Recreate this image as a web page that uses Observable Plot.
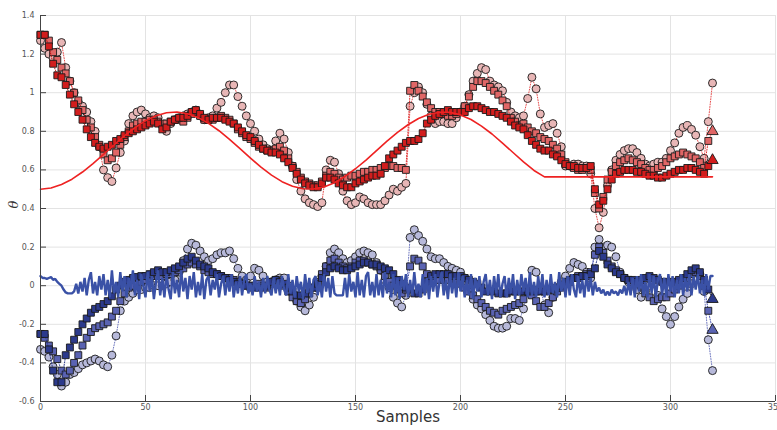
<!DOCTYPE html>
<html><head><meta charset="utf-8">
<script src="https://cdn.jsdelivr.net/npm/d3@7"></script>
<script src="https://cdn.jsdelivr.net/npm/@observablehq/plot@0.6"></script>
<style>body{margin:0;background:#fff;} #chart{width:777px;height:430px;}</style>
</head><body><div id="chart"></div>
<script>
// sample spacing of estimated series
const sampleStep = 2;
const refStep = 5;

const xTicks = [0, 50, 100, 150, 200, 250, 300, 350];
const yTicks = [-0.6, -0.4, -0.2, 0, 0.2, 0.4, 0.6, 0.8, 1, 1.2, 1.4];

// red reference (theta true), every 5 samples
const redRef = [
0.500,0.506,0.524,0.552,0.589,0.633,0.680,0.729,0.777,0.819,
0.855,0.881,0.896,0.900,0.891,0.872,0.841,0.803,0.758,0.710,
0.661,0.614,0.573,0.539,0.515,0.502,0.501,0.512,0.534,0.566,
0.606,0.651,0.700,0.749,0.794,0.834,0.866,0.888,0.899,0.898,
0.885,0.861,0.827,0.786,0.739,0.690,0.642,0.597,
0.564,0.564,0.564,0.564,0.564,0.564,0.564,0.564,0.564,0.564,0.564,0.564,0.564,0.564,0.564,0.564,0.564];

// blue reference, every sample
const blueRef = [
0.05,0.04,0.04,0.035,0.04,0.045,0.03,0.035,0.02,0.01,0.0,-0.02,-0.035,-0.04,-0.04,-0.04,-0.03,
0.01,-0.04,0.02,-0.03,0.04,-0.05,0.03,0.07,-0.04,0.02,-0.05,0.05,-0.02,0.06,-0.05,0.03,-0.06,0.08,-0.04,0.02,-0.06,0.07,-0.03,0.05,
-0.06,0.04,-0.02,0.08,-0.05,0.03,-0.07,0.06,0.0,-0.06,0.07,-0.03,0.05,-0.07,0.02,0.08,-0.05,0.04,-0.06,0.06,-0.02,-0.07,0.07,-0.04,0.03,-0.06,0.08,-0.03,0.04,-0.07,0.05,-0.02,0.07,-0.06,0.02,-0.05,0.06,-0.07,0.03,0.05,
-0.05,0.03,-0.02,0.06,-0.06,0.01,0.05,-0.05,0.04,-0.03,0.06,-0.06,0.02,-0.04,0.05,-0.05,0.03,0.06,-0.04,0.01,-0.05,0.05,-0.03,0.02,-0.06,0.04,-0.04,0.05,-0.02,-0.05,0.04,-0.04,0.03,-0.05,0.05,-0.02,-0.05,0.06,-0.04,0.03,
-0.06,0.05,-0.03,0.02,-0.07,0.06,-0.04,0.04,-0.06,0.03,0.05,-0.05,0.02,-0.06,0.06,-0.03,0.04,-0.06,0.05,-0.04,-0.05,-0.05,-0.05,-0.05,0.04,-0.06,0.06,-0.03,0.02,-0.06,0.07,-0.05,0.03,-0.06,0.05,0.07,-0.05,0.02,-0.06,0.06,
-0.05,0.03,-0.06,0.07,-0.04,0.02,-0.06,0.06,-0.05,0.04,-0.07,0.05,-0.02,0.06,-0.06,0.03,-0.05,0.07,-0.04,0.01,-0.06,0.06,-0.05,0.04,-0.07,0.05,-0.03,0.06,-0.06,0.02,0.07,-0.05,0.03,-0.07,0.06,-0.04,0.04,-0.06,0.07,-0.03,
0.05,-0.06,0.03,-0.05,0.06,-0.07,0.04,-0.03,0.05,-0.06,0.02,0.06,-0.05,0.03,-0.07,0.05,-0.04,0.06,-0.06,0.01,0.05,-0.06,0.04,-0.04,0.06,-0.07,0.03,-0.05,0.06,-0.03,0.04,-0.06,0.07,-0.05,0.02,-0.06,0.05,-0.04,0.06,-0.06,
0.03,-0.05,0.06,-0.04,0.02,-0.06,0.07,-0.03,0.04,-0.06,0.05,-0.05,0.06,-0.02,-0.06,0.05,-0.04,0.03,-0.06,0.06,-0.03,0.04,-0.05,0.02,-0.03,-0.01,-0.04,-0.02,-0.05,-0.03,-0.05,-0.02,-0.04,-0.03,-0.05,-0.02,-0.04,0.0,-0.05,0.02,
-0.05,0.04,-0.06,0.05,-0.03,0.06,-0.05,0.02,-0.06,0.06,-0.04,0.05,-0.06,0.03,0.06,-0.05,0.04,-0.06,0.06,-0.03,0.05,-0.06,0.03,-0.04,0.06,-0.05,0.04,-0.03,0.06,-0.05,0.05,-0.02,0.06,-0.04,0.03,-0.05,0.06,-0.02,0.05,0.05];

// estimates, every 2 samples (0..320)
const redA = [
1.30,1.30,1.24,1.15,1.09,1.08,1.04,0.99,0.94,0.90,
0.86,0.81,0.77,0.74,0.72,0.71,0.72,0.73,0.75,0.76,
0.78,0.79,0.80,0.81,0.82,0.83,0.84,0.85,0.84,0.81,
0.82,0.85,0.86,0.87,0.87,0.88,0.90,0.91,0.89,0.87,
0.86,0.87,0.87,0.87,0.86,0.85,0.84,0.82,0.80,0.78,
0.77,0.75,0.73,0.71,0.70,0.69,0.69,0.68,0.66,0.64,
0.61,0.58,0.55,0.53,0.52,0.51,0.51,0.53,0.56,0.56,
0.55,0.53,0.52,0.51,0.51,0.53,0.54,0.55,0.56,0.57,
0.57,0.58,0.62,0.66,0.68,0.70,0.72,0.74,0.75,0.75,
0.76,0.79,0.84,0.86,0.88,0.89,0.90,0.91,0.90,0.90,
0.90,0.90,0.92,0.93,0.93,0.92,0.91,0.90,0.90,0.89,
0.88,0.87,0.85,0.83,0.82,0.81,0.78,0.75,0.73,0.71,
0.70,0.70,0.68,0.67,0.65,0.63,0.62,0.62,0.61,0.61,
0.61,0.62,0.50,0.42,0.44,0.50,0.55,0.58,0.59,0.60,
0.60,0.60,0.59,0.59,0.58,0.57,0.57,0.56,0.56,0.57,
0.58,0.59,0.60,0.60,0.61,0.61,0.60,0.59,0.58,0.62,
0.65];
const redB = [
1.30,1.30,1.27,1.21,1.17,1.13,1.10,1.06,1.00,0.96,
0.91,0.86,0.82,0.77,0.73,0.68,0.65,0.66,0.69,0.73,
0.77,0.80,0.83,0.84,0.85,0.85,0.86,0.86,0.85,0.84,
0.84,0.85,0.86,0.86,0.85,0.87,0.89,0.90,0.88,0.86,
0.86,0.86,0.87,0.88,0.87,0.86,0.84,0.81,0.79,0.77,
0.76,0.74,0.72,0.71,0.70,0.70,0.71,0.72,0.70,0.66,
0.62,0.59,0.56,0.54,0.53,0.52,0.52,0.54,0.57,0.59,
0.58,0.56,0.55,0.56,0.57,0.57,0.58,0.59,0.59,0.60,
0.60,0.61,0.61,0.62,0.62,0.61,0.61,0.60,1.01,1.04,
1.01,0.98,0.95,0.92,0.90,0.90,0.89,0.88,0.88,0.89,
0.90,0.93,0.98,1.03,1.06,1.06,1.05,1.03,1.01,0.99,
0.96,0.93,0.87,0.85,0.83,0.84,0.82,0.80,0.79,0.77,
0.76,0.75,0.73,0.71,0.68,0.64,0.62,0.61,0.60,0.60,
0.61,0.60,0.48,0.40,0.46,0.55,0.59,0.62,0.64,0.65,
0.66,0.65,0.64,0.63,0.61,0.60,0.60,0.61,0.62,0.64,
0.66,0.67,0.68,0.69,0.68,0.67,0.66,0.64,0.61,0.75,
0.80];
const redC = [
1.27,1.23,1.20,1.18,1.21,1.26,1.13,1.06,1.00,0.95,
0.93,0.90,0.85,0.80,0.72,0.60,0.56,0.54,0.61,0.69,
0.75,0.84,0.88,0.90,0.91,0.89,0.87,0.88,0.87,0.83,
0.80,0.84,0.86,0.87,0.88,0.89,0.90,0.91,0.88,0.86,
0.87,0.88,0.92,0.95,1.00,1.04,1.04,0.98,0.93,0.88,
0.84,0.80,0.76,0.73,0.71,0.70,0.75,0.79,0.76,0.69,
0.62,0.55,0.49,0.45,0.43,0.42,0.41,0.43,0.60,0.65,
0.64,0.58,0.49,0.44,0.42,0.43,0.46,0.45,0.43,0.42,
0.42,0.42,0.44,0.47,0.50,0.49,0.51,0.53,0.93,1.00,
1.03,1.00,0.94,0.88,0.84,0.85,0.85,0.84,0.84,0.87,
0.90,0.93,0.99,1.06,1.10,1.13,1.12,1.06,1.04,1.03,
1.01,0.95,0.90,0.88,0.87,0.88,0.97,1.08,1.02,0.89,
0.82,0.83,0.84,0.79,0.72,0.62,0.62,0.63,0.63,0.62,
0.62,0.58,0.40,0.30,0.38,0.52,0.60,0.65,0.68,0.70,
0.71,0.71,0.69,0.66,0.63,0.62,0.63,0.64,0.64,0.66,
0.70,0.74,0.79,0.82,0.83,0.81,0.78,0.72,0.66,0.85,
1.05];
const blueA = [
-0.25,-0.25,-0.33,-0.44,-0.50,-0.50,-0.36,-0.32,-0.28,-0.24,
-0.20,-0.17,-0.14,-0.12,-0.11,-0.095,-0.08,-0.055,-0.02,0.00,
0.02,0.03,0.04,0.045,0.05,0.05,0.06,0.07,0.08,0.07,
0.07,0.08,0.09,0.10,0.12,0.14,0.15,0.13,0.11,0.10,
0.09,0.07,0.06,0.05,0.04,0.03,0.02,0.01,0.01,0.00,
0.00,-0.01,-0.01,-0.01,0.00,0.02,0.03,0.02,0.01,-0.01,
-0.03,-0.05,-0.05,-0.04,-0.02,-0.01,0.01,0.04,0.07,0.09,
0.10,0.09,0.08,0.08,0.09,0.10,0.11,0.12,0.12,0.11,
0.11,0.10,0.09,0.08,0.06,0.03,0.01,-0.01,-0.02,-0.04,
-0.04,-0.02,0.02,0.05,0.06,0.06,0.06,0.06,0.05,0.05,
0.05,0.04,0.03,0.02,0.01,-0.01,-0.03,-0.03,-0.03,-0.04,
-0.04,-0.04,-0.03,-0.03,-0.03,-0.03,-0.03,-0.02,-0.03,-0.03,
-0.03,-0.02,-0.02,-0.01,0.00,0.02,0.03,0.04,0.04,0.05,
0.05,0.06,0.09,0.18,0.15,0.11,0.09,0.07,0.06,0.04,
0.03,0.03,0.02,0.03,0.04,0.05,0.04,0.03,0.02,0.02,
0.02,0.02,0.03,0.04,0.06,0.08,0.09,0.07,0.03,-0.02,
-0.07];
const blueB = [
-0.25,-0.27,-0.31,-0.34,-0.38,-0.44,-0.46,-0.44,-0.40,-0.36,
-0.31,-0.27,-0.24,-0.22,-0.21,-0.20,-0.19,-0.16,-0.13,-0.08,
-0.04,-0.01,0.00,0.01,0.02,0.03,0.04,0.05,0.05,0.05,
0.06,0.06,0.07,0.08,0.09,0.11,0.12,0.11,0.10,0.08,
0.07,0.06,0.06,0.05,0.04,0.04,0.03,0.02,0.01,0.00,
-0.01,0.00,0.01,0.00,-0.01,0.01,0.03,0.02,0.00,-0.03,
-0.06,-0.08,-0.09,-0.07,-0.04,-0.01,0.02,0.06,0.10,0.13,
0.14,0.12,0.10,0.09,0.10,0.12,0.13,0.13,0.12,0.11,
0.10,0.08,0.05,0.02,0.00,-0.02,-0.04,-0.02,0.10,0.14,
0.13,0.10,0.06,0.04,0.03,0.03,0.03,0.03,0.03,0.02,
0.01,-0.01,-0.03,-0.05,-0.07,-0.09,-0.11,-0.13,-0.14,-0.15,
-0.13,-0.12,-0.11,-0.10,-0.09,-0.07,-0.03,-0.05,-0.08,-0.11,
-0.11,-0.09,-0.06,-0.03,-0.01,0.01,0.02,0.04,0.05,0.05,
0.06,0.07,0.16,0.20,0.17,0.13,0.10,0.08,0.06,0.04,
0.03,0.02,0.01,0.00,-0.04,-0.06,-0.08,-0.07,-0.06,-0.06,
-0.04,-0.02,0.00,0.02,0.04,0.06,0.07,0.05,0.00,-0.13,
-0.23];
const blueC = [
-0.33,-0.34,-0.37,-0.42,-0.46,-0.52,-0.50,-0.46,-0.45,-0.43,
-0.41,-0.40,-0.39,-0.38,-0.39,-0.41,-0.42,-0.36,-0.26,-0.13,
-0.08,-0.06,-0.04,-0.02,-0.02,-0.01,-0.01,0.00,0.00,0.00,
0.01,0.02,0.03,0.07,0.13,0.19,0.22,0.21,0.18,0.15,
0.13,0.14,0.16,0.17,0.17,0.18,0.14,0.09,0.05,0.03,
0.05,0.09,0.08,0.05,0.02,0.02,0.03,0.04,0.04,0.00,
-0.04,-0.08,-0.11,-0.13,-0.10,-0.06,-0.01,0.05,0.10,0.17,
0.19,0.17,0.14,0.12,0.13,0.15,0.17,0.18,0.17,0.16,
0.12,0.08,0.03,-0.01,-0.06,-0.09,-0.11,-0.05,0.25,0.29,
0.26,0.23,0.19,0.15,0.14,0.14,0.12,0.10,0.09,0.08,
0.07,0.04,-0.02,-0.07,-0.10,-0.12,-0.15,-0.18,-0.21,-0.22,
-0.22,-0.21,-0.17,-0.17,-0.18,-0.12,-0.03,0.08,0.07,-0.02,
-0.10,-0.14,-0.06,-0.01,0.02,0.05,0.09,0.12,0.11,0.10,
0.07,0.04,0.20,0.24,0.20,0.21,0.20,0.15,0.07,0.04,
0.02,0.01,-0.02,-0.06,-0.03,0.00,0.01,-0.05,-0.12,-0.16,
-0.20,-0.16,-0.11,-0.07,-0.04,0.01,0.07,0.06,-0.03,-0.28,
-0.44];

const pts = (arr, step) => arr.map((v, i) => ({x: i * step, y: v}));

const groups = [
  {vals: blueC, symbol: "circle",  fill: "#b7b9da", line: "#6f78c0"},
  {vals: blueB, symbol: "square",  fill: "#5a63b2", line: "#4450b0"},
  {vals: blueA, symbol: "square",  fill: "#2c3a8c", line: "#2c3a8c"},
  {vals: redC,  symbol: "circle",  fill: "#e8b6b6", line: "#e85050"},
  {vals: redB,  symbol: "square",  fill: "#e06666", line: "#e03030"},
  {vals: redA,  symbol: "square",  fill: "#d21d1d", line: "#c01010"}
];

const marks = [
  Plot.gridX(xTicks, {stroke: "#e3e3e3", strokeOpacity: 1}),
  Plot.gridY(yTicks, {stroke: "#e3e3e3", strokeOpacity: 1}),
];
for (const g of groups) {
  const d = pts(g.vals, sampleStep);
  marks.push(Plot.line(d, {x: "x", y: "y", stroke: g.line, strokeWidth: 1, strokeDasharray: "1,1.6"}));
  const body = g.symbol === "square" ? d.slice(0, -1) : d;
  marks.push(Plot.dot(body, {x: "x", y: "y", symbol: g.symbol, r: g.symbol === "square" ? 3.9 : 4, fill: g.fill, fillOpacity: 1, stroke: "#1a1a1a", strokeWidth: 0.9}));
  if (g.symbol === "square") {
    marks.push(Plot.dot(d.slice(-1), {x: "x", y: "y", symbol: "triangle", r: 4.2, fill: g.fill, stroke: "#1a1a1a", strokeWidth: 0.9}));
  }
}
marks.push(Plot.line(pts(blueRef, 1), {x: "x", y: "y", stroke: "#3a51a6", strokeWidth: 2.4, strokeLinejoin: "miter"}));
marks.push(Plot.line(pts(redRef, refStep), {x: "x", y: "y", stroke: "#ee2222", strokeWidth: 1.6}));

marks.push(Plot.ruleY([-0.6], {stroke: "#444", strokeWidth: 1}));
marks.push(Plot.ruleX([0], {stroke: "#444", strokeWidth: 1}));
marks.push(Plot.axisX(xTicks, {anchor: "bottom", tickSize: -6, tickPadding: 9, stroke: "#444", fill: "#555", fontSize: 8, label: null}));
marks.push(Plot.axisY(yTicks, {anchor: "left", tickSize: -6, tickPadding: 12, stroke: "#444", fill: "#555", fontSize: 8, label: null,
  tickFormat: d => String(+d.toFixed(1))}));
marks.push(Plot.text(["Samples"], {text: d => d, frameAnchor: "bottom", dy: 20, fontSize: 15, fill: "#333"}));
marks.push(Plot.text(["θ"], {text: d => d, frameAnchor: "left", dx: -27, rotate: -90, fontSize: 13, fontStyle: "italic", fill: "#333", fontFamily: "DejaVu Serif"}));

const chart = Plot.plot({
  width: 777, height: 430,
  marginLeft: 40, marginRight: 2, marginTop: 15, marginBottom: 29,
  style: {fontFamily: "DejaVu Sans", background: "#fff", overflow: "visible"},
  x: {domain: [0, 350], label: null},
  y: {domain: [-0.6, 1.4], label: null},
  marks
});
document.getElementById("chart").appendChild(chart);
</script>
</body></html>
